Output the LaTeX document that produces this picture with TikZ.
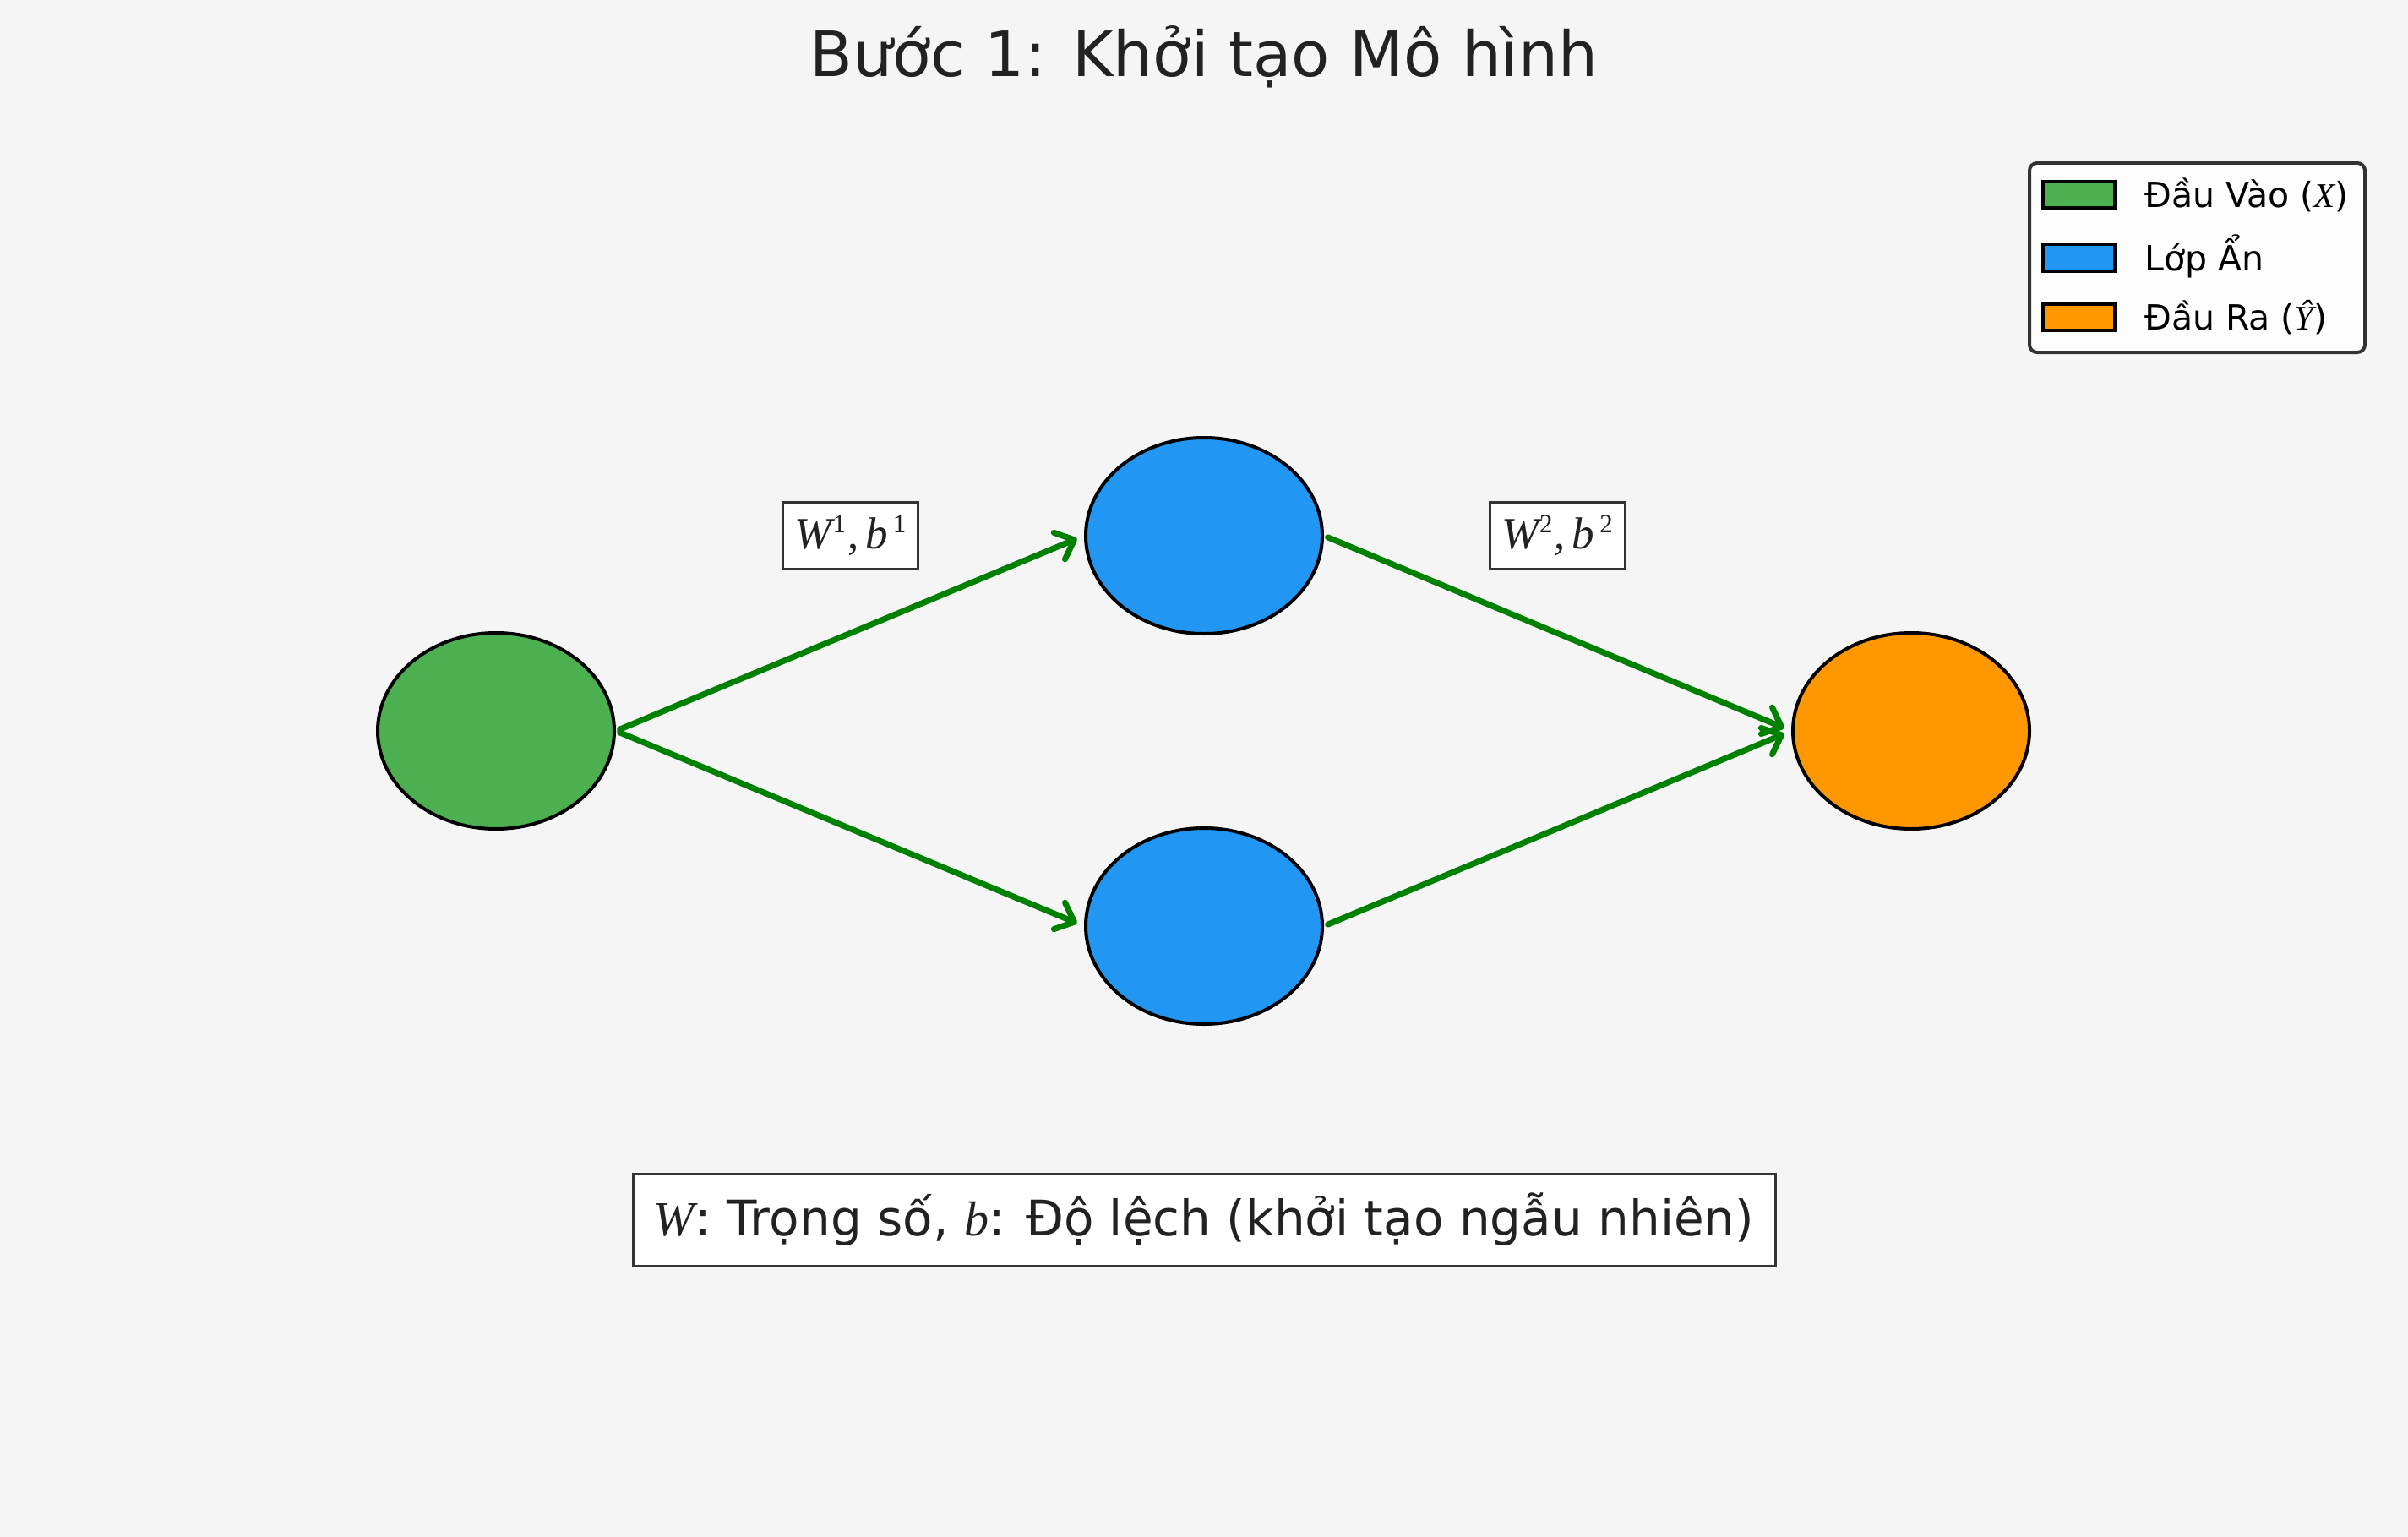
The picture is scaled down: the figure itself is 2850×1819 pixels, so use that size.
\documentclass[tikz,border=0pt]{standalone}
\usepackage{fontspec}
\setmainfont{DejaVu Sans}
\newfontfamily\mf{Liberation Serif}
\usetikzlibrary{arrows.meta,shapes.geometric}
\definecolor{bgc}{HTML}{F5F5F5}
\definecolor{ingreen}{HTML}{4CAF50}
\definecolor{hidblue}{HTML}{2196F3}
\definecolor{outorange}{HTML}{FF9800}
\definecolor{arrgreen}{HTML}{008000}
\definecolor{txt}{HTML}{222222}
\definecolor{frame}{HTML}{333333}
\newcommand\supnum[1]{\raisebox{19pt}{\fontsize{31}{31}\selectfont\upshape #1}}
\newcommand\wblabel[1]{{\itshape W}\hspace{1pt}\supnum{#1}\hspace{2pt},\hspace{8pt}{\itshape b}\hspace{6pt}\supnum{#1}}
\tikzset{
  neuron/.style={ellipse, draw=black, line width=4pt, minimum width=280pt, minimum height=232pt, inner sep=0pt},
  conn/.style={draw=arrgreen, line width=7pt, line cap=round, shorten <=5pt, shorten >=9pt,
    -{Straight Barb[length=19pt,width=34pt,line cap=round,line join=round]}},
  wlabel/.style={draw=frame, fill=white, line width=3pt, minimum width=160pt, minimum height=79pt, inner sep=0pt, text=txt,
    font=\mf\fontsize{53}{56}\selectfont},
  patch/.style={draw=black, line width=4pt, minimum width=85pt, minimum height=31pt, inner sep=0pt},
  legtext/.style={anchor=base west, inner sep=0pt, font=\fontsize{41}{46}\selectfont},
}
\begin{document}
\begin{tikzpicture}[x=1pt,y=-1pt]
\fill[bgc] (0,0) rectangle (2850,1819);
\useasboundingbox (0,0) rectangle (2850,1819);
% title
\node[anchor=base, inner sep=0pt, text=txt, font=\fontsize{74}{80}\selectfont] (title) at (1425,91) {Bước 1: Khởi tạo Mô hình};
% neurons
\node[neuron, fill=ingreen] (in) at (587,865) {};
\node[neuron, fill=hidblue] (h1) at (1425,634) {};
\node[neuron, fill=hidblue] (h2) at (1425,1096) {};
\node[neuron, fill=outorange] (out) at (2262,865) {};
% connectors
\draw[conn] (in.east) -- (h1.west);
\draw[conn] (in.east) -- (h2.west);
\draw[conn] (h1.east) -- (out.west);
\draw[conn] (h2.east) -- (out.west);
% weight labels
\node[wlabel] (l1) at (1006.5,633.5) {\wblabel{1}};
\node[wlabel] (l2) at (1843,633.5) {\wblabel{2}};
% bottom note
\node[draw=frame, fill=white, line width=3pt, minimum width=1352pt, minimum height=109pt, inner sep=0pt, text=txt,
  font=\fontsize{58}{64}\selectfont] (note) at (1425,1443.5)
  {{\mf\itshape W}: Trọng số, {\mf\itshape b}: Độ lệch (khởi tạo ngẫu nhiên)};
% legend
\node[draw=frame, fill=white, fill opacity=0.8, draw opacity=1, line width=4pt, rounded corners=9pt,
  minimum width=397pt, minimum height=224pt, inner sep=0pt] (leg) at (2600.5,305) {};
\node[patch, fill=ingreen] (p1) at (2460.5,230.5) {};
\node[patch, fill=hidblue] (p2) at (2460.5,305) {};
\node[patch, fill=outorange] (p3) at (2460.5,375) {};
\node[legtext] (t1) at (2538,246) {Đầu Vào ({\mf\itshape X})};
\node[legtext] (t2) at (2538,320) {Lớp Ẩn};
\node[legtext] (t3) at (2538,390) {Đầu Ra ({\mf\itshape Ŷ})};
\end{tikzpicture}
\end{document}
